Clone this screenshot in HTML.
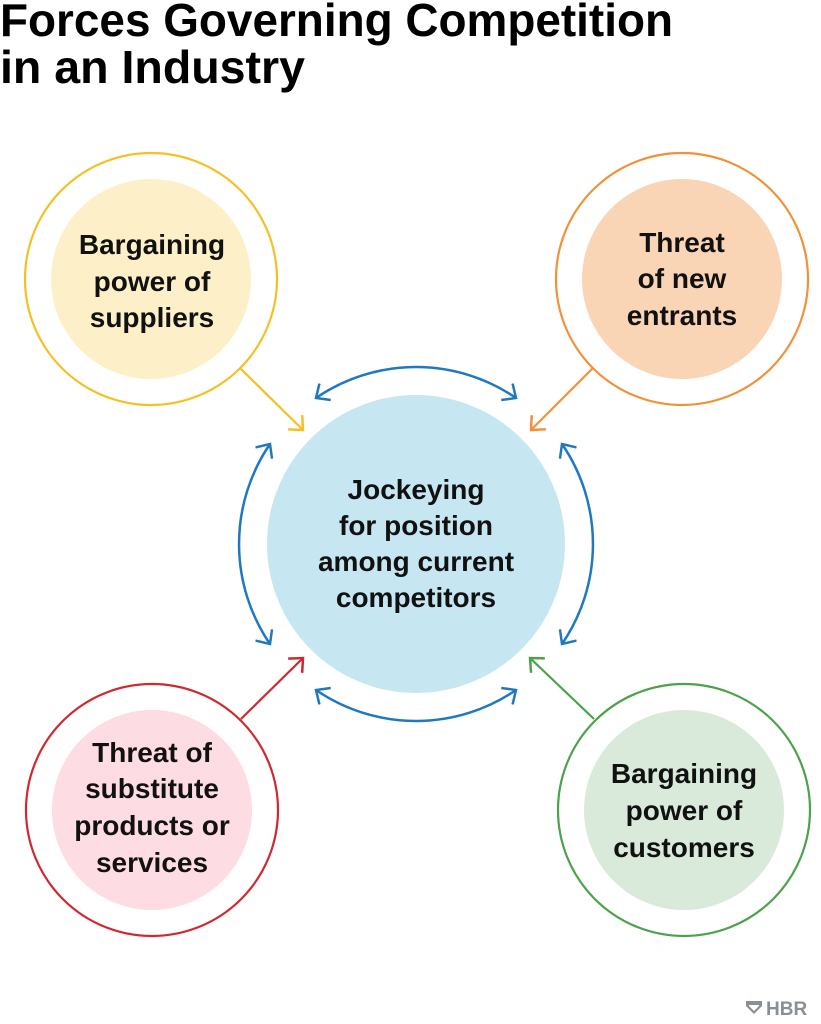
<!DOCTYPE html>
<html><head><meta charset="utf-8"><style>html,body{margin:0;padding:0;background:#fff}svg{display:block}</style></head>
<body>
<svg width="821" height="1024" viewBox="0 0 821 1024" xmlns="http://www.w3.org/2000/svg" font-family="Liberation Sans, sans-serif">
<defs>
<marker id="ab" markerWidth="26" markerHeight="26" refX="13" refY="13" orient="auto-start-reverse" markerUnits="userSpaceOnUse"><path d="M2,3 L13,13 L2,23" fill="none" stroke="#1f78c0" stroke-width="2.5"/></marker>
<marker id="ay" markerWidth="26" markerHeight="26" refX="13" refY="13" orient="auto" markerUnits="userSpaceOnUse"><path d="M2,3 L13,13 L2,23" fill="none" stroke="#f5c024" stroke-width="2.5"/></marker>
<marker id="ao" markerWidth="26" markerHeight="26" refX="13" refY="13" orient="auto" markerUnits="userSpaceOnUse"><path d="M2,3 L13,13 L2,23" fill="none" stroke="#f0923a" stroke-width="2.5"/></marker>
<marker id="ar" markerWidth="26" markerHeight="26" refX="13" refY="13" orient="auto" markerUnits="userSpaceOnUse"><path d="M2,3 L13,13 L2,23" fill="none" stroke="#d0282f" stroke-width="2.5"/></marker>
<marker id="ag" markerWidth="26" markerHeight="26" refX="13" refY="13" orient="auto" markerUnits="userSpaceOnUse"><path d="M2,3 L13,13 L2,23" fill="none" stroke="#4ca24a" stroke-width="2.5"/></marker>
</defs>
<text x="0" y="36" font-size="46" font-weight="bold" textLength="673" lengthAdjust="spacingAndGlyphs">Forces Governing Competition</text>
<text x="0" y="83" font-size="46" font-weight="bold" textLength="305" lengthAdjust="spacingAndGlyphs">in an Industry</text>

<circle cx="416" cy="544" r="149" fill="#c6e7f2"/>
<g fill="none" stroke="#1f78c0" stroke-width="2.5">
<path d="M316,398 A177,177 0 0,1 516,398" marker-start="url(#ab)" marker-end="url(#ab)"/>
<path d="M562,444 A177,177 0 0,1 562,644" marker-start="url(#ab)" marker-end="url(#ab)"/>
<path d="M516,690 A177,177 0 0,1 316,690" marker-start="url(#ab)" marker-end="url(#ab)"/>
<path d="M270,644 A177,177 0 0,1 270,444" marker-start="url(#ab)" marker-end="url(#ab)"/>
</g>

<circle cx="151" cy="279" r="126" fill="#fff" stroke="#f5c024" stroke-width="2.2"/>
<circle cx="151" cy="279" r="100" fill="#fdf0c8"/>
<circle cx="682" cy="279" r="126" fill="#fff" stroke="#f0923a" stroke-width="2.2"/>
<circle cx="682" cy="279" r="100" fill="#f9d5b5"/>
<circle cx="152" cy="810" r="126" fill="#fff" stroke="#d0282f" stroke-width="2.2"/>
<circle cx="152" cy="810" r="100" fill="#fddde3"/>
<circle cx="684" cy="810" r="126" fill="#fff" stroke="#4ca24a" stroke-width="2.2"/>
<circle cx="684" cy="810" r="100" fill="#d9eadb"/>

<line x1="240" y1="368" x2="303" y2="430" stroke="#f5c024" stroke-width="2.2" marker-end="url(#ay)"/>
<line x1="593" y1="368" x2="531" y2="430" stroke="#f0923a" stroke-width="2.2" marker-end="url(#ao)"/>
<line x1="241" y1="719" x2="303" y2="658" stroke="#d0282f" stroke-width="2.2" marker-end="url(#ar)"/>
<line x1="594" y1="719" x2="530" y2="658" stroke="#4ca24a" stroke-width="2.2" marker-end="url(#ag)"/>

<g font-size="28" font-weight="bold" text-anchor="middle" fill="#111">
<text x="152" y="254">Bargaining</text><text x="152" y="291">power of</text><text x="152" y="327">suppliers</text>
<text x="682" y="252">Threat</text><text x="682" y="288">of new</text><text x="682" y="325">entrants</text>
<text x="416" y="499">Jockeying</text><text x="416" y="535">for position</text><text x="416" y="571">among current</text><text x="416" y="607">competitors</text>
<text x="152" y="762">Threat of</text><text x="152" y="798">substitute</text><text x="152" y="835">products or</text><text x="152" y="872">services</text>
<text x="684" y="783">Bargaining</text><text x="684" y="820">power of</text><text x="684" y="857">customers</text>
</g>

<g fill="#8a8f96">
<path d="M746,1001 h16 v5 l-8,8 l-8,-8 z M749,1006 v-1 h10 v1 l-5,5 z" fill-rule="evenodd"/>
<text x="766" y="1015" font-size="19" font-weight="bold">HBR</text>
</g>
</svg>
</body></html>
